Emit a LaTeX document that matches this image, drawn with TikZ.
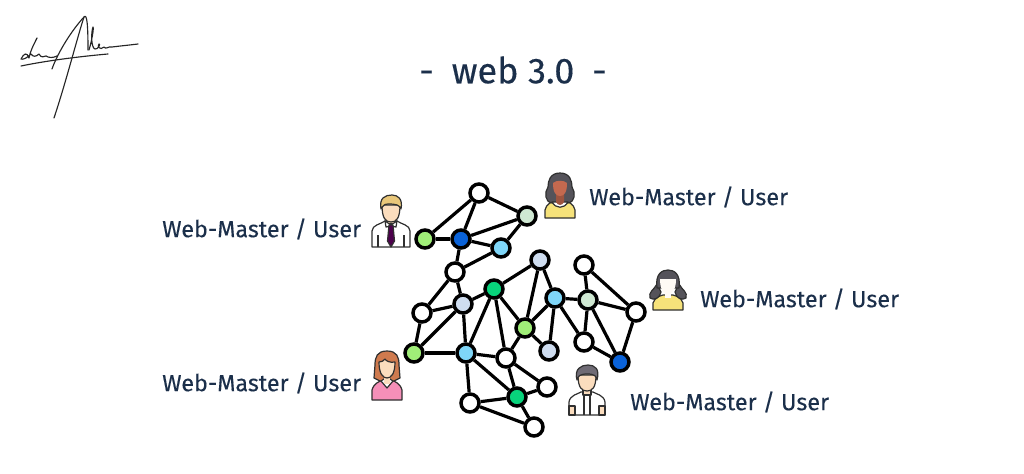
\documentclass[tikz,border=0pt]{standalone}
\usepackage{fontspec}
\setmainfont{Fira Sans}[FakeBold=0.25]
\definecolor{navy}{HTML}{1B2F4A}
\definecolor{cGreen}{HTML}{A0EE78}
\definecolor{cBlue}{HTML}{0A62D8}
\definecolor{cSky}{HTML}{7FD6F8}
\definecolor{cMint}{HTML}{08D47C}
\definecolor{cPaleG}{HTML}{CFE8D2}
\definecolor{cPaleB}{HTML}{CFDDF0}
\definecolor{skin}{HTML}{FBDDBE}
\definecolor{ink}{HTML}{303030}
\definecolor{shirtY}{HTML}{F6E27A}
\definecolor{hairB}{HTML}{E9C77A}
\definecolor{hairD}{HTML}{55535A}
\definecolor{hairO}{HTML}{CF7A4E}
\definecolor{shirtP}{HTML}{F58FB8}
\definecolor{faceD}{HTML}{C4694F}
\definecolor{hairG}{HTML}{6F6B75}
\tikzset{
  vtx/.style={circle,draw=black,line width=2.6pt,minimum size=13.5pt,inner sep=0pt},
  edgeline/.style={draw=black,line width=2.4pt},
  lbl/.style={anchor=west,inner sep=0pt,text=navy,font=\fontsize{17.5}{20}\selectfont},
  ol/.style={draw=ink,line width=0.9pt,line join=round},
  sig/.style={draw=black!85,line width=0.85pt,line cap=round,line join=round}
}
\begin{document}
\begin{tikzpicture}[x=0.75pt,y=-0.75pt]
\useasboundingbox (0,0) rectangle (1024,474);
\fill[white] (0,0) rectangle (1024,474);
% signature
\draw[sig] (54,118) .. controls (66,82) and (78,35) .. (84,17) .. controls (87,13) and (88,25) .. (88,50);
\draw[sig] (52,69) .. controls (58,52) and (72,30) .. (84,17);
\draw[sig] (21,66) .. controls (50,60) and (85,56) .. (108,54);
\draw[sig] (37,38) .. controls (33,46) and (30,52) .. (29,58) .. controls (27,52) and (24,53) .. (21,59) .. controls (23,60) and (27,58) .. (31,54) .. controls (33,57) and (36,57) .. (39,54) .. controls (41,58) and (44,57) .. (46,56) .. controls (49,58) and (53,58) .. (57,56);
\draw[sig] (89,50) .. controls (92,40) and (94,28) .. (93,27) .. controls (91,32) and (91,48) .. (95,49) .. controls (98,50) and (101,43) .. (99,44) .. controls (97,46) and (100,51) .. (104,47) .. controls (106,50) and (108,46) .. (112,47) .. controls (120,46) and (130,45) .. (138,44);
% title
\node[anchor=center,inner sep=0pt,text=navy,font=\fontsize{27}{30}\selectfont] (title) at (513,70) {-\hspace{0.5em}web 3.0\hspace{0.5em}-};
% labels
\node[lbl] (l1) at (162,229) {Web-Master / User};
\node[lbl] (l2) at (589,197) {Web-Master / User};
\node[lbl] (l3) at (700,299) {Web-Master / User};
\node[lbl] (l4) at (162,383) {Web-Master / User};
\node[lbl] (l5) at (630,402) {Web-Master / User};
% vertices
\node[vtx,fill=white] (a1) at (479,193) {};
\node[vtx,fill=cPaleG] (a2) at (527,216) {};
\node[vtx,fill=cGreen] (a3) at (425,239) {};
\node[vtx,fill=cBlue] (a4) at (461,239) {};
\node[vtx,fill=cSky] (a5) at (501,248) {};
\node[vtx,fill=white] (b1) at (455,272) {};
\node[vtx,fill=cPaleB] (c1) at (540,260) {};
\node[vtx,fill=white] (c2) at (584,265) {};
\node[vtx,fill=cMint] (d1) at (494,289) {};
\node[vtx,fill=cPaleB] (d2) at (463,304) {};
\node[vtx,fill=cSky] (d3) at (555,298) {};
\node[vtx,fill=cPaleG] (d4) at (588,300) {};
\node[vtx,fill=white] (e1) at (422,313) {};
\node[vtx,fill=white] (e2) at (636,312) {};
\node[vtx,fill=cGreen] (f1) at (525,328) {};
\node[vtx,fill=cGreen] (g1) at (414,353) {};
\node[vtx,fill=cSky] (g2) at (466,353) {};
\node[vtx,fill=white] (g3) at (506,358) {};
\node[vtx,fill=cPaleB] (g4) at (549,351) {};
\node[vtx,fill=white] (g5) at (584,342) {};
\node[vtx,fill=cBlue] (g6) at (620,362) {};
\node[vtx,fill=white] (h1) at (547,387) {};
\node[vtx,fill=cMint] (h2) at (517,397) {};
\node[vtx,fill=white] (h3) at (470,403) {};
\node[vtx,fill=white] (h4) at (534,427) {};
% edges
\foreach \p/\q in {a1/a3,a1/a4,a1/a2,a2/a4,a2/a5,a3/a4,a4/a5,a4/b1,a5/b1,b1/e1,b1/d2,d2/d1,d1/c1,c1/d3,c1/f1,d3/d4,d4/c2,c2/e2,d4/e2,d2/e1,e1/g1,d2/g1,d2/g2,g1/g2,d1/g2,d1/g3,d1/f1,f1/d3,f1/g3,f1/g4,d3/g4,d3/g5,d4/g5,d4/g6,g5/g6,e2/g6,g2/g3,g2/h2,g2/h3,g3/h2,g3/h1,h2/h1,h2/h3,h2/h4,h3/h4}
  \draw[edgeline] (\p) -- (\q);
% person 1: man with tie
\begin{scope}[shift={(391,195)}]
  \draw[ol,fill=white] (-19,52) -- (-19,36) .. controls (-19,30) and (-10,29) .. (-6,26) -- (6,26) .. controls (10,29) and (19,30) .. (19,36) -- (19,52) -- cycle;
  \draw[ol] (-13,40) -- (-13,52) (13,40) -- (13,52);
  \draw[ol,fill=skin] (-4,22) rectangle (4,29);
  \draw[ol,fill=skin] (-9,10) .. controls (-9,24) and (-5,27) .. (0,27) .. controls (5,27) and (9,24) .. (9,10) -- cycle;
  \draw[ol,fill=white] (-6,26) -- (0,30) -- (6,26) -- (5,32) -- (0,31) -- (-5,32) -- cycle;
  \draw[ol,fill=violet!60!black] (-2,30) -- (2,30) -- (3.5,46) -- (0,52) -- (-3.5,46) -- cycle;
  \draw[ol,fill=hairB] (-10,14) .. controls (-12,3) and (-6,0) .. (1,0) .. controls (7,0) and (12,4) .. (10,14) .. controls (8,10) and (6,9) .. (-3,9) .. controls (-7,9) and (-8,11) .. (-10,14) -- cycle;
\end{scope}
% person 2: dark-skinned woman
\begin{scope}[shift={(560,173)}]
  \draw[ol,fill=shirtY] (-15,45) -- (-15,37) .. controls (-14,31) and (-8,29) .. (-5,27) -- (5,27) .. controls (8,29) and (14,31) .. (15,37) -- (15,45) -- cycle;
  \draw[ol,fill=hairD] (0,0) .. controls (-10,0) and (-12,8) .. (-12,14) .. controls (-16,20) and (-15,29) .. (-8,30) -- (8,30) .. controls (15,29) and (16,20) .. (12,14) .. controls (12,8) and (10,0) .. (0,0) -- cycle;
  \draw[ol,fill=white] (-8,29) .. controls (-4,36) and (4,36) .. (8,29) -- cycle;
  \fill[faceD!80!black] (-4,20) -- (4,20) -- (4,29) .. controls (2,33) and (-2,33) .. (-4,29) -- cycle;
  \fill[faceD] (-7,10) .. controls (-7,20) and (-4,23) .. (0,23) .. controls (4,23) and (7,20) .. (7,10) .. controls (4,7) and (-4,7) .. (-7,10) -- cycle;
\end{scope}
% person 3: woman with pigtails
\begin{scope}[shift={(668,270)}]
  \draw[ol,fill=shirtY] (-15,40) -- (-15,33) .. controls (-13,27) and (-8,26) .. (-5,25) -- (5,25) .. controls (8,26) and (13,27) .. (15,33) -- (15,40) -- cycle;
  \draw[ol,fill=hairD] (-11,14) .. controls (-14,20) and (-20,22) .. (-18,28) .. controls (-14,31) and (-8,28) .. (-7,22) -- cycle;
  \draw[ol,fill=hairD] (11,14) .. controls (14,20) and (20,22) .. (18,28) .. controls (14,31) and (8,28) .. (7,22) -- cycle;
  \draw[ol,fill=hairD] (-11,18) .. controls (-13,4) and (-6,0) .. (0,0) .. controls (6,0) and (13,4) .. (11,18) -- cycle;
  \fill[white!85!skin] (-3,18) rectangle (3,28);
  \fill[white!85!skin] (-8,9) -- (8,9) .. controls (8,20) and (4,24) .. (0,24) .. controls (-4,24) and (-8,20) .. (-8,9) -- cycle;
\end{scope}
% person 4: woman in pink
\begin{scope}[shift={(387,351)}]
  \draw[ol,fill=shirtP] (-15,49) -- (-15,39) .. controls (-13,32) and (-8,31) .. (-5,29) -- (5,29) .. controls (8,31) and (13,32) .. (15,39) -- (15,49) -- cycle;
  \draw[ol,fill=hairO] (0,0) .. controls (-10,0) and (-12,6) .. (-12,14) -- (-13,27) -- (-7,30) -- (7,30) -- (13,27) -- (12,14) .. controls (12,6) and (10,0) .. (0,0) -- cycle;
  \draw[ol,fill=white] (-6,30) -- (0,37) -- (6,30) -- (3,28) -- (-3,28) -- cycle;
  \fill[skin] (-3,22) rectangle (3,33);
  \draw[ol,fill=skin] (-8,11) .. controls (-8,23) and (-4,27) .. (0,27) .. controls (4,27) and (8,23) .. (8,11) .. controls (3,12) and (-1,10) .. (-2,8) .. controls (-3,10) and (-6,11) .. (-8,11) -- cycle;
\end{scope}
% person 5: man in white shirt
\begin{scope}[shift={(587,365)}]
  \draw[ol,fill=white] (-18,50) -- (-18,37) .. controls (-17,30) and (-9,29) .. (-6,27) -- (6,27) .. controls (9,29) and (17,30) .. (18,37) -- (18,50) -- cycle;
  \draw[ol,fill=skin] (-18,41) rectangle (-12,50);
  \draw[ol,fill=skin] (12,41) rectangle (18,50);
  \draw[ol] (-3,31) -- (-3,50) (3,31) -- (3,50);
  \draw[ol,fill=skin] (-4,22) rectangle (4,30);
  \draw[ol,fill=skin] (-9,10) .. controls (-9,23) and (-5,26) .. (0,26) .. controls (5,26) and (9,23) .. (9,10) -- cycle;
  \draw[ol,fill=hairG] (-10,15) .. controls (-13,4) and (-6,0) .. (1,0) .. controls (8,0) and (13,4) .. (10,15) .. controls (9,11) and (8,9) .. (0,9) .. controls (-7,9) and (-9,11) .. (-10,15) -- cycle;
\end{scope}
\end{tikzpicture}
\end{document}
